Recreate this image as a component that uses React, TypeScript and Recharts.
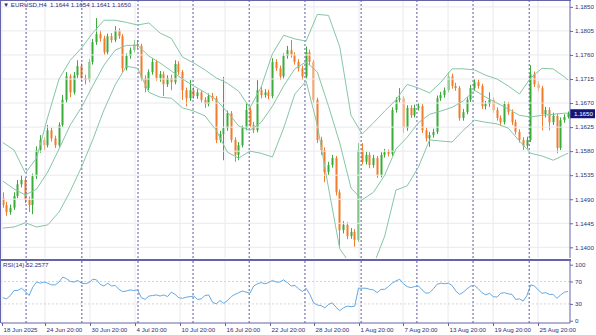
import React from "react";
import { ComposedChart, LineChart, Bar, Line, XAxis, YAxis, ReferenceLine } from "recharts";

const BULL = "#3aac3a";
const BEAR = "#f27b2c";
const BAND = "#86c6a4";
const RSI_COLOR = "#64a8e4";
const AXIS = "#6464aa";
const TEXT = "#2e2e78";
const GRID = "#e9e9ef";
const SEP = "#5a5aa4";
const FONT = "'Liberation Sans', Arial, sans-serif";

// 8-hour bars, EURUSD, 18 Jun - 28 Aug 2025
const FIRST_OPEN = 1.1492;
const closes = [
  1.1479, 1.1466, 1.1474, 1.1496, 1.1518, 1.1526, 1.1489, 1.1479, 1.1533, 1.1582,
  1.1601, 1.1591, 1.1619, 1.1604, 1.1591, 1.1629, 1.1676, 1.1720, 1.1690, 1.1722,
  1.1739, 1.1717, 1.1713, 1.1747, 1.1784, 1.1799, 1.1791, 1.1765, 1.1795, 1.1788,
  1.1806, 1.1795, 1.1735, 1.1758, 1.1769, 1.1780, 1.1777, 1.1717, 1.1698, 1.1728,
  1.1747, 1.1717, 1.1724, 1.1705, 1.1717, 1.1709, 1.1743, 1.1728, 1.1694, 1.1679,
  1.1694, 1.1683, 1.1690, 1.1676, 1.1668, 1.1683, 1.1679, 1.1601, 1.1612, 1.1623,
  1.1651, 1.1601, 1.1573, 1.1591, 1.1623, 1.1657, 1.1629, 1.1619, 1.1694, 1.1685,
  1.1690, 1.1683, 1.1747, 1.1735, 1.1720, 1.1758, 1.1769, 1.1760, 1.1747, 1.1735,
  1.1720, 1.1765, 1.1747, 1.1676, 1.1601, 1.1582, 1.1541, 1.1554, 1.1567, 1.1503,
  1.1432, 1.1442, 1.1421, 1.1429, 1.1414, 1.1582, 1.1560, 1.1573, 1.1554, 1.1567,
  1.1535, 1.1573, 1.1578, 1.1575, 1.1657, 1.1676, 1.1679, 1.1623, 1.1661, 1.1647,
  1.1661, 1.1664, 1.1619, 1.1604, 1.1610, 1.1616, 1.1679, 1.1685, 1.1694, 1.1720,
  1.1702, 1.1698, 1.1642, 1.1653, 1.1676, 1.1698, 1.1709, 1.1702, 1.1664, 1.1668,
  1.1676, 1.1657, 1.1642, 1.1634, 1.1668, 1.1653, 1.1634, 1.1616, 1.1601, 1.1590,
  1.1601, 1.1724, 1.1705, 1.1698, 1.1649, 1.1657, 1.1634, 1.1646, 1.1586, 1.1638,
  1.1644, 1.1650,
];
const highs = [
  1.1503, 1.1485, 1.1480, 1.1503, 1.1526, 1.1535, 1.1531, 1.1495, 1.1538, 1.1589,
  1.1610, 1.1606, 1.1629, 1.1624, 1.1609, 1.1634, 1.1685, 1.1728, 1.1724, 1.1728,
  1.1750, 1.1744, 1.1723, 1.1752, 1.1790, 1.1829, 1.1806, 1.1796, 1.1800, 1.1801,
  1.1814, 1.1810, 1.1799, 1.1763, 1.1774, 1.1788, 1.1788, 1.1781, 1.1722, 1.1733,
  1.1754, 1.1751, 1.1730, 1.1729, 1.1722, 1.1723, 1.1750, 1.1748, 1.1732, 1.1699,
  1.1713, 1.1699, 1.1696, 1.1694, 1.1681, 1.1688, 1.1689, 1.1683, 1.1618, 1.1719,
  1.1656, 1.1655, 1.1606, 1.1597, 1.1628, 1.1670, 1.1662, 1.1635, 1.1713, 1.1700,
  1.1696, 1.1695, 1.1754, 1.1752, 1.1740, 1.1763, 1.1777, 1.1788, 1.1765, 1.1752,
  1.1740, 1.1776, 1.1770, 1.1751, 1.1680, 1.1607, 1.1587, 1.1560, 1.1573, 1.1571,
  1.1508, 1.1449, 1.1447, 1.1436, 1.1434, 1.1595, 1.1595, 1.1579, 1.1578, 1.1573,
  1.1571, 1.1578, 1.1584, 1.1583, 1.1662, 1.1681, 1.1698, 1.1683, 1.1666, 1.1666,
  1.1667, 1.1670, 1.1668, 1.1624, 1.1616, 1.1622, 1.1684, 1.1691, 1.1699, 1.1728,
  1.1725, 1.1708, 1.1702, 1.1659, 1.1681, 1.1704, 1.1715, 1.1714, 1.1706, 1.1674,
  1.1690, 1.1681, 1.1662, 1.1647, 1.1673, 1.1672, 1.1658, 1.1639, 1.1621, 1.1606,
  1.1607, 1.1741, 1.1729, 1.1711, 1.1702, 1.1663, 1.1662, 1.1652, 1.1650, 1.1643,
  1.1649, 1.1654,
];
const lows = [
  1.1474, 1.1459, 1.1461, 1.1470, 1.1492, 1.1512, 1.1483, 1.1466, 1.1462, 1.1528,
  1.1577, 1.1582, 1.1587, 1.1598, 1.1586, 1.1588, 1.1625, 1.1671, 1.1681, 1.1686,
  1.1717, 1.1711, 1.1705, 1.1709, 1.1742, 1.1779, 1.1785, 1.1760, 1.1761, 1.1783,
  1.1784, 1.1790, 1.1728, 1.1731, 1.1753, 1.1765, 1.1771, 1.1712, 1.1690, 1.1694,
  1.1723, 1.1712, 1.1710, 1.1683, 1.1700, 1.1694, 1.1705, 1.1723, 1.1676, 1.1664,
  1.1674, 1.1678, 1.1678, 1.1671, 1.1661, 1.1664, 1.1674, 1.1595, 1.1596, 1.1563,
  1.1618, 1.1596, 1.1560, 1.1563, 1.1587, 1.1619, 1.1624, 1.1614, 1.1615, 1.1679,
  1.1680, 1.1677, 1.1679, 1.1730, 1.1713, 1.1716, 1.1753, 1.1755, 1.1742, 1.1729,
  1.1713, 1.1716, 1.1741, 1.1670, 1.1595, 1.1573, 1.1522, 1.1535, 1.1549, 1.1497,
  1.1401, 1.1426, 1.1415, 1.1416, 1.1401, 1.1410, 1.1555, 1.1555, 1.1548, 1.1549,
  1.1530, 1.1531, 1.1568, 1.1570, 1.1571, 1.1652, 1.1671, 1.1614, 1.1618, 1.1642,
  1.1643, 1.1656, 1.1614, 1.1598, 1.1588, 1.1605, 1.1612, 1.1674, 1.1680, 1.1690,
  1.1697, 1.1693, 1.1637, 1.1637, 1.1649, 1.1672, 1.1693, 1.1697, 1.1659, 1.1658,
  1.1663, 1.1652, 1.1637, 1.1628, 1.1630, 1.1648, 1.1629, 1.1611, 1.1596, 1.1582,
  1.1585, 1.1597, 1.1700, 1.1692, 1.1619, 1.1643, 1.1619, 1.1629, 1.1576, 1.1582,
  1.1633, 1.1641,
];
const rsi = [
  41, 39, 45, 54, 54, 58, 52, 45, 60, 69,
  67, 69, 67, 64, 64, 69, 78, 75, 70, 69,
  72, 67, 66, 68, 74, 73, 65, 62, 67, 62,
  63, 56, 52, 53, 55, 54, 55, 41, 38, 44,
  45, 46, 44, 46, 43, 51, 47, 41, 40, 42,
  43, 44, 38, 39, 45, 46, 33, 30, 36, 31,
  36, 43, 47, 50, 53, 51, 49, 62, 66, 68,
  66, 68, 72, 69, 69, 73, 68, 62, 63, 57,
  52, 58, 47, 32, 28, 27, 23, 29, 32, 24,
  18, 23, 26, 25, 26, 58, 58, 58, 56, 55,
  50, 56, 56, 61, 67, 71, 74, 66, 61, 59,
  61, 62, 55, 49, 50, 57, 65, 67, 66, 67,
  63, 53, 47, 51, 57, 62, 63, 57, 50, 46,
  49, 43, 42, 49, 50, 48, 47, 38, 39, 35,
  45, 64, 62, 55, 49, 50, 47, 47, 40, 46,
  51, 52.2577,
];

// Bollinger bands (20, 2) read at every third bar
const bandBars = [
  0, 3, 6, 9, 12, 15, 18, 21, 24, 27, 30, 33, 36, 39, 42, 45, 48, 51, 54, 57,
  60, 63, 66, 69, 72, 75, 78, 81, 84, 87, 90, 93, 96, 99, 102, 105, 108, 111, 114, 117,
  120, 123, 126, 129, 132, 135, 138, 141, 144, 147, 150, 151,
];
const upperBand = [
  1.1596, 1.1582, 1.1539, 1.1567, 1.1644, 1.1715, 1.1750, 1.1773, 1.1801, 1.1825,
  1.1825, 1.1821, 1.1816, 1.1820, 1.1801, 1.1791, 1.1756, 1.1745, 1.1732, 1.1717,
  1.1707, 1.1692, 1.1661, 1.1700, 1.1762, 1.1797, 1.1790, 1.1786, 1.1836, 1.1834,
  1.1775, 1.1647, 1.1612, 1.1633, 1.1655, 1.1676, 1.1705, 1.1698, 1.1689, 1.1709,
  1.1734, 1.1734, 1.1732, 1.1722, 1.1715, 1.1702, 1.1687, 1.1717, 1.1735, 1.1734,
  1.1719, 1.1713,
];
const middleBand = [
  1.1524, 1.1509, 1.1498, 1.1509, 1.1541, 1.1584, 1.1629, 1.1662, 1.1702, 1.1741,
  1.1769, 1.1778, 1.1778, 1.1758, 1.1745, 1.1730, 1.1715, 1.1702, 1.1690, 1.1676,
  1.1653, 1.1627, 1.1619, 1.1634, 1.1664, 1.1702, 1.1734, 1.1747, 1.1728, 1.1664,
  1.1595, 1.1511, 1.1489, 1.1503, 1.1535, 1.1584, 1.1606, 1.1633, 1.1649, 1.1655,
  1.1662, 1.1674, 1.1694, 1.1681, 1.1670, 1.1659, 1.1647, 1.1644, 1.1647, 1.1649,
  1.1651, 1.1651,
];
const lowerBand = [
  1.1436, 1.1438, 1.1446, 1.1438, 1.1442, 1.1466, 1.1505, 1.1550, 1.1601, 1.1657,
  1.1704, 1.1739, 1.1735, 1.1690, 1.1681, 1.1679, 1.1661, 1.1655, 1.1646, 1.1619,
  1.1578, 1.1567, 1.1580, 1.1576, 1.1569, 1.1623, 1.1687, 1.1711, 1.1629, 1.1511,
  1.1397, 1.1367, 1.1358, 1.1367, 1.1421, 1.1507, 1.1515, 1.1550, 1.1601, 1.1599,
  1.1597, 1.1619, 1.1638, 1.1634, 1.1631, 1.1623, 1.1599, 1.1576, 1.1571, 1.1563,
  1.1573, 1.1576,
];

const priceTicks = [1.14, 1.1445, 1.149, 1.1535, 1.158, 1.1625, 1.167, 1.1715, 1.176, 1.1805, 1.185];
const rsiTicks = [0, 30, 70, 100];
const dateTickPos = [0.27, 11.76, 23.78, 35.8, 47.82, 59.85, 71.87, 83.63, 95.65, 107.4, 119.42, 131.45, 143.47];
const dateLabels = [
  "18 Jun 2025", "24 Jun 20:00", "30 Jun 20:00", "4 Jul 20:00", "10 Jul 20:00", "16 Jul 20:00",
  "22 Jul 20:00", "28 Jul 20:00", "1 Aug 20:00", "7 Aug 20:00", "13 Aug 20:00", "19 Aug 20:00", "25 Aug 20:00",
];
const weekSeparators = [6.7, 21.6, 36.6, 51.3, 66.3, 81.2, 96.2, 111.1, 126.1, 141.1];

const SYMBOL = "EURUSD,H4";
const LAST_OHLC = ["1.1644", "1.1654", "1.1641", "1.1650"];
const LAST_PRICE = 1.165;
const RSI_LABEL = "RSI(14) 52.2577";

const BARS = 152;
const PRICE_DOMAIN = [1.138, 1.1861];
const RSI_DOMAIN = [-4.1, 106.6];

const candles = closes.map((close, i) => ({
  t: i + 0.5,
  open: i === 0 ? FIRST_OPEN : closes[i - 1],
  high: highs[i],
  low: lows[i],
  close,
}));
const bands = bandBars.map((b, i) => ({
  t: b + 0.5,
  upper: upperBand[i],
  middle: middleBand[i],
  lower: lowerBand[i],
}));
const rsiRows = rsi.map((v, i) => ({ t: i + 0.5, rsi: v }));

const Candle = (props: any) => {
  const { x, y, width, height, payload } = props;
  if (x == null || y == null) return null;
  const top = Math.min(y, y + height);
  const h = Math.abs(height);
  const { open, close, high, low } = payload;
  const span = high - low || 1e-9;
  const py = (v: number) => top + ((high - v) / span) * h;
  const cx = Math.round(x + width / 2) + 0.5;
  const color = close >= open ? BULL : BEAR;
  const bTop = py(Math.max(open, close));
  const bBot = py(Math.min(open, close));
  return (
    <g>
      <line x1={cx} x2={cx} y1={top} y2={top + h} stroke={color} strokeWidth={1} />
      <rect x={cx - 1} y={bTop} width={2} height={Math.max(bBot - bTop, 1)} fill={color} />
    </g>
  );
};

const PriceTick = (props: any) => {
  const { x, y, payload } = props;
  return (
    <g>
      <line x1={x} x2={x + 3} y1={y + 0.5} y2={y + 0.5} stroke={AXIS} />
      <text x={x + 5} y={y + 2.3} fontSize={6.2} fill={TEXT} fontFamily={FONT}>
        {payload.value.toFixed(4)}
      </text>
    </g>
  );
};

const RsiTick = (props: any) => {
  const { x, y, payload } = props;
  return (
    <g>
      <line x1={x} x2={x + 3} y1={y + 0.5} y2={y + 0.5} stroke={AXIS} />
      <text x={x + 5} y={y + 2.3} fontSize={6.2} fill={TEXT} fontFamily={FONT}>
        {payload.value}
      </text>
    </g>
  );
};

const DateTick = (props: any) => {
  const { x, y, payload } = props;
  const label = dateLabels[dateTickPos.indexOf(payload.value)];
  const px = Math.round(x) + 0.5;
  return (
    <g>
      <line x1={px} x2={px} y1={y} y2={y + 3} stroke={AXIS} />
      <text x={px + 1} y={y + 9} fontSize={6.2} fill={TEXT} fontFamily={FONT}>
        {label}
      </text>
    </g>
  );
};

const PriceBadge = (props: any) => {
  const { viewBox } = props;
  if (!viewBox) return null;
  const x = viewBox.x + viewBox.width;
  const y = viewBox.y;
  return (
    <g>
      <rect x={x} y={y - 4.5} width={25} height={9} fill="#16167a" />
      <text x={x + 4} y={y + 2.3} fontSize={6.2} fill="#ffffff" fontFamily={FONT}>
        {LAST_PRICE.toFixed(4)}
      </text>
    </g>
  );
};

const App: React.FC = () => {
  return (
    <div style={{ position: "absolute", left: 0, top: 0, width: 596, height: 335, background: "#fff", overflow: "hidden" }}>
      <div style={{ position: "absolute", left: 0, top: 0 }}>
        <ComposedChart width={596} height={260} data={candles} margin={{ top: 1, right: 0, bottom: 2, left: 1 }}>
          <XAxis type="number" dataKey="t" domain={[0, BARS]} hide allowDataOverflow />
          <YAxis
            orientation="right"
            width={26}
            domain={PRICE_DOMAIN}
            ticks={priceTicks}
            interval={0}
            allowDataOverflow
            stroke={AXIS}
            tickLine={false}
            tickSize={0}
            tickMargin={0}
            tick={<PriceTick />}
          />
          {priceTicks.map((p) => (
            <ReferenceLine key={"h" + p} y={p} stroke={GRID} />
          ))}
          {dateTickPos.map((d) => (
            <ReferenceLine key={"v" + d} x={d} stroke={GRID} />
          ))}
          {weekSeparators.map((d) => (
            <ReferenceLine key={"w" + d} x={d} stroke={SEP} strokeDasharray="2 2" />
          ))}
          <Bar dataKey={(d: any) => [d.low, d.high]} barSize={3} shape={<Candle />} isAnimationActive={false} />
          <Line data={bands} dataKey="upper" stroke={BAND} strokeWidth={1} dot={false} isAnimationActive={false} />
          <Line data={bands} dataKey="middle" stroke={BAND} strokeWidth={1} dot={false} isAnimationActive={false} />
          <Line data={bands} dataKey="lower" stroke={BAND} strokeWidth={1} dot={false} isAnimationActive={false} />
          <ReferenceLine y={LAST_PRICE} stroke="none" label={<PriceBadge />} />
        </ComposedChart>
      </div>
      <div style={{ position: "absolute", left: 0, top: 260 }}>
        <LineChart width={596} height={75} data={rsiRows} margin={{ top: 1, right: 0, bottom: 0, left: 1 }}>
          <XAxis
            type="number"
            dataKey="t"
            domain={[0, BARS]}
            ticks={dateTickPos}
            interval={0}
            height={12}
            stroke={AXIS}
            tickLine={false}
            tickSize={0}
            tickMargin={0}
            tick={<DateTick />}
            allowDataOverflow
          />
          <YAxis
            orientation="right"
            width={26}
            domain={RSI_DOMAIN}
            ticks={rsiTicks}
            interval={0}
            allowDataOverflow
            stroke={AXIS}
            tickLine={false}
            tickSize={0}
            tickMargin={0}
            tick={<RsiTick />}
          />
          {dateTickPos.map((d) => (
            <ReferenceLine key={"rv" + d} x={d} stroke={GRID} />
          ))}
          <ReferenceLine y={70} stroke="#d4d4dc" strokeDasharray="2 2" />
          <ReferenceLine y={30} stroke="#d4d4dc" strokeDasharray="2 2" />
          {weekSeparators.map((d) => (
            <ReferenceLine key={"rw" + d} x={d} stroke={SEP} strokeDasharray="2 2" />
          ))}
          <Line dataKey="rsi" stroke={RSI_COLOR} strokeWidth={1} dot={false} isAnimationActive={false} />
        </LineChart>
      </div>
      <div style={{ position: "absolute", left: 0, top: 0, width: 1, height: 323, background: AXIS }} />
      <div style={{ position: "absolute", left: 0, top: 0, width: 571, height: 1, background: AXIS }} />
      <div style={{ position: "absolute", left: 0, top: 259, width: 571, height: 2, background: AXIS }} />
      <div
        style={{
          position: "absolute",
          left: 3,
          top: 1,
          fontFamily: FONT,
          fontSize: 6.2,
          color: TEXT,
          whiteSpace: "pre",
          lineHeight: "8px",
        }}
      >
        {"\u25BC " + SYMBOL + "  " + LAST_OHLC.join(" ")}
      </div>
      <div
        style={{
          position: "absolute",
          left: 3,
          top: 261,
          fontFamily: FONT,
          fontSize: 6.2,
          color: TEXT,
          whiteSpace: "pre",
          lineHeight: "8px",
        }}
      >
        {RSI_LABEL}
      </div>
    </div>
  );
};

export default App;
